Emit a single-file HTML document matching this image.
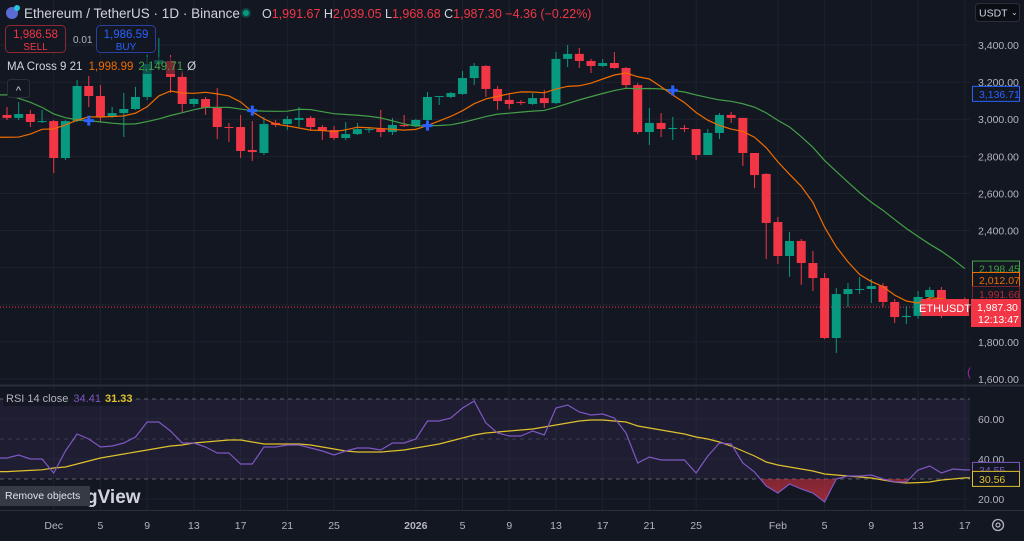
<!DOCTYPE html>
<html><head><meta charset="utf-8">
<style>
html,body{margin:0;padding:0;background:#131722;width:1024px;height:541px;overflow:hidden}
svg{display:block;font-family:"Liberation Sans",sans-serif}
</style></head>
<body>
<svg id="chart" width="1024" height="541" viewBox="0 0 1024 541" xmlns="http://www.w3.org/2000/svg">
<rect width="1024" height="541" fill="#131722"/>
<g id="grid"></g>
<g id="rsiband"></g>
<g id="main" clip-path="url(#clipMain)"></g>
<g id="rsi" clip-path="url(#clipRsi)"></g>
<g id="axes"></g>
<defs>
<clipPath id="clipMain"><rect x="0" y="0" width="970" height="384"/></clipPath>
<clipPath id="clipRsi"><rect x="0" y="387" width="970" height="122"/></clipPath>
<clipPath id="clipBelow30"><rect x="0" y="479" width="970" height="30"/></clipPath>
<linearGradient id="redfill" x1="0" y1="0" x2="0" y2="1"><stop offset="0" stop-color="#f23645" stop-opacity="0.1"/><stop offset="1" stop-color="#f23645" stop-opacity="0.6"/></linearGradient>
</defs>
<line x1="0" y1="385.5" x2="1024" y2="385.5" stroke="#2a2e39" stroke-width="2"/>
<line x1="0" y1="510.5" x2="1024" y2="510.5" stroke="#2a2e39"/>
<g>
<circle cx="12" cy="13" r="6" fill="#5b6bd5"/>
<circle cx="17" cy="8" r="3" fill="#26c6da"/>
<text x="24" y="18" fill="#d1d4dc" font-size="13.5">Ethereum / TetherUS · 1D · Binance</text>
<circle cx="246" cy="13" r="5" fill="#089981" opacity="0.35"/><circle cx="246" cy="13" r="3" fill="#089981"/>
<text x="262" y="18" font-size="12.5" fill="#f23645"><tspan fill="#d1d4dc">O</tspan>1,991.67 <tspan fill="#d1d4dc">H</tspan>2,039.05 <tspan fill="#d1d4dc">L</tspan>1,968.68 <tspan fill="#d1d4dc">C</tspan>1,987.30 −4.36 (−0.22%)</text>
</g>
<g>
<rect x="5.5" y="25.5" width="60" height="27" rx="4" fill="#131722" stroke="#8b2a33"/>
<text x="35.5" y="38" text-anchor="middle" fill="#f23645" font-size="11.5">1,986.58</text>
<text x="35.5" y="50" text-anchor="middle" fill="#f23645" font-size="10">SELL</text>
</g>
<text x="73" y="43" fill="#b2b5be" font-size="10">0.01</text>
<g>
<rect x="96.5" y="25.5" width="59" height="27" rx="4" fill="#131722" stroke="#2a3f9e"/>
<text x="126" y="38" text-anchor="middle" fill="#2962ff" font-size="11.5">1,986.59</text>
<text x="126" y="50" text-anchor="middle" fill="#2962ff" font-size="10">BUY</text>
</g>
<g>
<rect x="975.5" y="3.5" width="44" height="18" rx="3" fill="#0c0e15" stroke="#2a2e39"/>
<text x="979" y="16.5" fill="#d1d4dc" font-size="10.5">USDT</text>
<text x="1011" y="15" fill="#d1d4dc" font-size="8">⌄</text>
</g>
<g id="overlay"></g>
</svg>
<script>
const dates = ["Nov27","Nov28","Nov29","Nov30","Dec1","Dec2","Dec3","Dec4","Dec5","Dec6","Dec7","Dec8","Dec9","Dec10","Dec11","Dec12","Dec13","Dec14","Dec15","Dec16","Dec17","Dec18","Dec19","Dec20","Dec21","Dec22","Dec23","Dec24","Dec25","Dec26","Dec27","Dec28","Dec29","Dec30","Dec31","Jan1","Jan2","Jan3","Jan4","Jan5","Jan6","Jan7","Jan8","Jan9","Jan10","Jan11","Jan12","Jan13","Jan14","Jan15","Jan16","Jan17","Jan18","Jan19","Jan20","Jan21","Jan22","Jan23","Jan24","Jan25","Jan26","Jan27","Jan28","Jan29","Jan30","Jan31","Feb1","Feb2","Feb3","Feb4","Feb5","Feb6","Feb7","Feb8","Feb9","Feb10","Feb11","Feb12","Feb13","Feb14","Feb15","Feb16","Feb17"];
const opens = [3023,3007,3028,2985,2990,2791,2990,3179,3125,3012,3033,3055,3120,3298,3314,3228,3082,3109,3061,2958,2958,2834,2818,2980,2974,2996,3007,2958,2942,2899,2920,2942,2947,2931,2969,2963,2996,3120,3120,3136,3222,3287,3163,3104,3093,3082,3114,3087,3325,3352,3314,3287,3303,3276,3184,2931,2980,2947,2953,2947,2807,2926,3023,3007,2818,2705,2446,2263,2344,2225,2144,1821,2058,2080,2085,2101,2015,1934,1940,2042,2080,2000,1991.67];
const highs = [3066,3093,3050,3050,2996,2996,3211,3233,3184,3066,3141,3174,3346,3438,3346,3260,3114,3120,3168,2980,3023,2990,3012,2996,3017,3066,3017,2969,2963,2985,2980,2958,3050,3007,3023,3001,3147,3125,3147,3260,3303,3292,3179,3141,3104,3141,3158,3362,3400,3384,3325,3325,3362,3281,3195,3061,3033,3012,2969,2947,2947,3033,3039,3007,2818,2710,2473,2392,2355,2290,2171,2090,2117,2150,2139,2117,2031,1993,2074,2096,2096,2015,2039.05];
const lows = [2996,2996,2958,2980,2710,2780,2985,3066,2985,3007,2904,3050,3104,3276,3141,3039,3066,3023,2893,2877,2791,2775,2807,2958,2942,2958,2937,2888,2888,2888,2915,2926,2904,2915,2958,2958,2985,3077,3114,3131,3184,3120,3050,3055,3077,3077,3061,3082,3281,3276,3249,3281,3271,3163,2920,2861,2904,2888,2931,2780,2807,2893,2980,2748,2629,2247,2220,2150,2107,2074,1815,1740,1988,2058,2010,1988,1902,1896,1924,1972,1929,1975,1968.68];
const closes = [3007,3028,2985,2990,2791,2990,3179,3125,3012,3033,3055,3120,3298,3319,3228,3082,3109,3061,2958,2953,2829,2823,2974,2969,3001,3007,2958,2937,2899,2920,2947,2947,2931,2969,2963,2996,3120,3125,3141,3222,3287,3163,3098,3082,3087,3114,3087,3325,3352,3314,3287,3303,3276,3184,2931,2980,2947,2953,2947,2807,2926,3023,3007,2818,2699,2441,2263,2344,2225,2144,1821,2058,2085,2085,2101,2015,1934,1940,2042,2080,2015,1995,1987.30];
const priorCloses = [3420,3440,3560,3530,3420,3410,3230,3150,3180,3160,3090,3040,3020,2840,2760,2770,2800,2950,2960,3020];
const rsiValues = [40.5,42,40,40,33,44,52.5,50,46,46.5,48,51,58.5,58.5,54,48,48,46,43,43,37.5,37.5,46,46,47,47,45.5,44,42,44,45.5,45.5,44.5,48,48,50,59,59,60.5,65.5,69,58,53,51.5,51.5,54,52,65.5,67,63.5,62,62.5,60.5,53,38,41,39.5,39.5,39.5,33,41.5,48,47.5,38,33.5,26.5,23,27.5,25,23,18.5,30,31.5,31.5,32,30,28.5,28.5,34.5,36.5,33,35,34.55];
const rsiMaValues = [33.7,34,34.3,34.6,35.5,36,37.5,39,40.5,41.5,42.5,43.5,44.5,45.5,46.5,47,48,48.5,49,49.5,49.5,48.5,47.5,47.5,47.5,47.5,47,46,45,44,43.5,43.5,43.5,44,44.5,45.5,46.5,47.5,49,50.5,52,53,53.5,54,54.5,55,56,57,58,59,59.5,59.5,59,58.5,56.5,55.5,54.5,53.5,52.5,51,50,48.5,46.5,44,41.5,38.5,37,36,35,34,32.5,32,31.5,31,30.5,29.5,28.5,28,28.2,28.5,29.5,30,30.56];
const priceTicks = [3400,3200,3000,2800,2600,2400,1800,1600];
const priceTickLabels = ["3,400.00","3,200.00","3,000.00","2,800.00","2,600.00","2,400.00","1,800.00","1,600.00"];
const rsiTicks = [60,40,20];
const rsiTickLabels = ["60.00","40.00","20.00"];
const timeTickIdx = [4,8,12,16,20,24,28,35,39,43,47,51,55,59,66,70,74,78,82];
const timeTickLabels = ["Dec","5","9","13","17","21","25","2026","5","9","13","17","21","25","Feb","5","9","13","17"];

const xOf = i => 7 + i * 11.68;
const yP = p => 45 + (3400 - p) * 0.18556;
const yR = v => 539 - 2 * v;
const NS = "http://www.w3.org/2000/svg";
function mk(tag, attrs, parent) { const e = document.createElementNS(NS, tag); for (const k in attrs) e.setAttribute(k, attrs[k]); parent.appendChild(e); return e; }
const grid = document.getElementById('grid'), main = document.getElementById('main'), rsi = document.getElementById('rsi'), axes = document.getElementById('axes'), band = document.getElementById('rsiband'), overlay = document.getElementById('overlay');

timeTickIdx.forEach(i => { const l = mk('line', {x1: xOf(i), x2: xOf(i), y1: 0, y2: 510, stroke: '#1e222d'}, grid);
    });
[3400,3200,3000,2800,2600,2400,2200,2000,1800,1600].forEach(p => { const l = mk('line', {x1: 0, x2: 970, y1: yP(p), y2: yP(p), stroke: '#1e222d'}, grid);
    });
[50].forEach(v => { const l = mk('line', {x1: 0, x2: 970, y1: yR(v), y2: yR(v), stroke: '#363a45', 'stroke-dasharray': '4 4'}, grid);
    });
[60,40,20].forEach(v => { const l = mk('line', {x1: 0, x2: 970, y1: yR(v), y2: yR(v), stroke: '#1e222d'}, grid);
    });

const bf = mk('rect', {x: 0, y: yR(70), width: 970, height: yR(30) - yR(70), fill: '#7e57c2', 'fill-opacity': 0.1}, band);
 
[70,30].forEach(v => { const l = mk('line', {x1: 0, x2: 970, y1: yR(v), y2: yR(v), stroke: '#787b86', 'stroke-dasharray': '4 4', 'stroke-opacity': 0.7}, band);
    });

const cpl = mk('line', {x1: 0, x2: 970, y1: yP(closes[closes.length-1]), y2: yP(closes[closes.length-1]), stroke: '#f23645', 'stroke-dasharray': '1 2'}, main);
 

for (let i = 0; i < closes.length; i++) {
  const up = closes[i] >= opens[i], col = up ? '#089981' : '#f23645', x = xOf(i);
  const g = mk('g', {}, main);
   
  mk('line', {x1: x, x2: x, y1: yP(highs[i]), y2: yP(lows[i]), stroke: col, 'stroke-width': 1}, g);
  const top = yP(Math.max(opens[i], closes[i])), bot = yP(Math.min(opens[i], closes[i]));
  mk('rect', {x: x - 4.5, y: top, width: 9, height: Math.max(1, bot - top), fill: col}, g);
}

const all = priorCloses.concat(closes);
function sma(n) { return closes.map((_, i) => { const j = i + priorCloses.length; let s = 0; for (let k = j - n + 1; k <= j; k++) s += all[k]; return s / n; }); }
const ma9 = sma(9), ma21 = sma(21);
function poly(vals, yf, extend) { let pts = vals.map((v, i) => xOf(i) + ',' + yf(v)); if (extend) { pts.unshift('0,' + yf(vals[0])); } return pts.join(' '); }
const l21 = mk('polyline', {points: poly(ma21, yP, true), fill: 'none', stroke: '#43a047', 'stroke-width': 1.2}, main);
 
const l9 = mk('polyline', {points: poly(ma9, yP, true), fill: 'none', stroke: '#ef6c00', 'stroke-width': 1.2}, main);
 
for (let i = 1; i < closes.length; i++) {
  const a = ma9[i-1] - ma21[i-1], b = ma9[i] - ma21[i];
  if ((a < 0) !== (b < 0)) {
    const x = xOf(i), y = yP(ma21[i]);
    const c = mk('path', {d: `M${x-5},${y}H${x+5}M${x},${y-5}V${y+5}`, stroke: '#2962ff', 'stroke-width': 3}, main);
     
  }
}

const below = mk('polygon', {points: poly(rsiValues, yR, false) + ` ${xOf(rsiValues.length-1)},${yR(30)} ${xOf(0)},${yR(30)}`, fill: 'url(#redfill)', 'clip-path': 'url(#clipBelow30)'}, rsi);
 
const rma = mk('polyline', {points: poly(rsiMaValues, yR, true) + ` 970,${yR(rsiMaValues[rsiMaValues.length-1])}`, fill: 'none', stroke: '#e0c02c', 'stroke-width': 1.2}, rsi);
 
const rl = mk('polyline', {points: poly(rsiValues, yR, true) + ` 970,${yR(rsiValues[rsiValues.length-1])}`, fill: 'none', stroke: '#7e57c2', 'stroke-width': 1.2}, rsi);
 

priceTicks.forEach((p, k) => { const t = mk('text', {x: 978, y: yP(p) + 4, fill: '#b2b5be', 'font-size': 10.5}, axes); t.textContent = priceTickLabels[k];
    });
rsiTicks.forEach((v, k) => { const t = mk('text', {x: 978, y: yR(v) + 4, fill: '#b2b5be', 'font-size': 10.5}, axes); t.textContent = rsiTickLabels[k];
    });
timeTickIdx.forEach((i, k) => { const t = mk('text', {x: xOf(i), y: 529, fill: '#b2b5be', 'font-size': 10.5, 'text-anchor': 'middle', 'font-weight': timeTickLabels[k] === '2026' ? 'bold' : 'normal'}, axes); t.textContent = timeTickLabels[k];
    });

function badge(y, txt, stroke, color, fill, name) {
  const g = mk('g', {}, overlay);
   
  mk('rect', {x: 972.5, y: y - 7.5, width: 47, height: 15, fill: fill, stroke: stroke}, g);
  const t = mk('text', {x: 979, y: y + 4, fill: color, 'font-size': 10.5}, g); t.textContent = txt;
}
badge(yP(3136.71), '3,136.71', '#2962ff', '#2962ff', '#131722', 'cross-price-label');
badge(yP(ma21[ma21.length-1]) , '2,198.45', '#43a047', '#43a047', '#131722', 'ma21-price-label');
badge(280, '2,012.07', '#ef6c00', '#ef6c00', '#131722', 'ma9-price-label');
badge(294, '1,991.66', '#7a2430', '#b22833', '#131722', 'prev-close-label');
badge(yR(34.55), '34.55', '#7e57c2', '#7e57c2', '#131722', 'rsi-value-label');
badge(yR(30.56) + 1, '30.56', '#e0c02c', '#e0c02c', '#131722', 'rsi-ma-value-label');
</script>
<svg style="position:absolute;left:0;top:0" width="1024" height="541" viewBox="0 0 1024 541">
<g font-family="Liberation Sans, sans-serif">
<g>
<rect x="921" y="299" width="48" height="17" fill="#f23645"/>
<text x="945" y="312" text-anchor="middle" fill="#fff" font-size="11">ETHUSDT</text>
<rect x="971" y="299" width="50" height="28" fill="#f23645"/>
<text x="977" y="311" fill="#fff" font-size="10.5">1,987.30</text>
<text x="978" y="323" fill="#fff" font-size="10.5">12:13:47</text>
</g>
<rect x="3" y="57" width="180" height="17" rx="2" fill="#131722" fill-opacity="0.55"/>
<text x="7" y="70" fill="#d1d4dc" font-size="11.5">MA Cross 9 21 <tspan fill="#ef6c00" dx="3">1,998.99</tspan><tspan fill="#43a047" dx="5">2,149.71</tspan><tspan fill="#d1d4dc" dx="4">Ø</tspan></text>
<g>
<rect x="7.5" y="79.5" width="22" height="18" rx="3" fill="#131722" stroke="#2a2e39"/>
<text x="18.5" y="94" text-anchor="middle" fill="#d1d4dc" font-size="11">^</text>
</g>
<g>
<rect x="3" y="390" width="127" height="16" rx="2" fill="#131722" fill-opacity="0.8"/>
<text x="6" y="402" fill="#b2b5be" font-size="11">RSI 14 close <tspan fill="#7e57c2" dx="2">34.41</tspan><tspan fill="#e0c02c" font-weight="bold" dx="4">31.33</tspan></text>
</g>
<text x="86" y="503" fill="#d1d4dc" font-size="19" font-weight="bold">gView</text>
<g>
<rect x="0" y="486" width="90" height="20" fill="#363a45"/>
<text x="5" y="499" fill="#e0e3eb" font-size="10.5">Remove objects</text>
</g>
<text x="967" y="376" fill="#9c27b0" font-size="12">(</text>
<g>
<circle cx="998" cy="525" r="5.5" fill="none" stroke="#b2b5be" stroke-width="1.3"/>
<circle cx="998" cy="525" r="2" fill="none" stroke="#b2b5be" stroke-width="1.2"/>
</g>
</g>
</svg>
</body></html>
